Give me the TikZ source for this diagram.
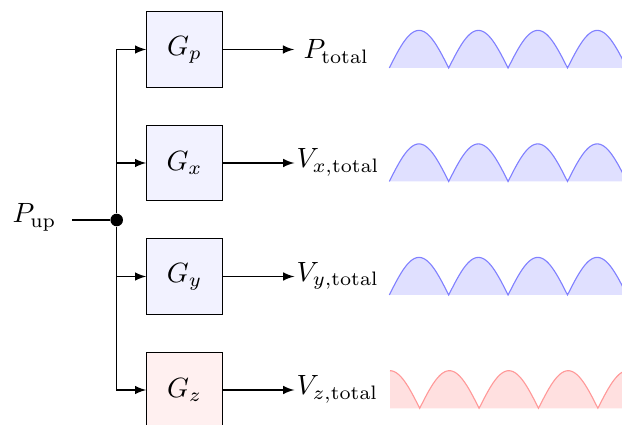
\documentclass[tikz,border=0pt]{standalone}
\usetikzlibrary{arrows}
\begin{document}
\begin{tikzpicture}[x=0.359pt,y=-0.359pt,
  gbox/.style={draw,minimum size=27.1pt,inner sep=0pt,fill=blue!5},
  gboxr/.style={gbox,fill=red!6},
  lbl/.style={inner sep=0pt,anchor=base west},
  arr/.style={-latex},
  bwave/.style={draw=blue!50,line width=0.4pt},
  bfill/.style={fill=blue!12},
  rwave/.style={draw=red!40,line width=0.4pt},
  rfill/.style={fill=red!12}]
\clip (0,0) rectangle (622,425);
% waves
\foreach \b in {68, 181.5, 295} {
  \fill[bfill] (389.3,\b) -- plot[domain=0:4,samples=161] ({389.3+59.4*\x},{\b-37.6*abs(sin(\x*180))}) -- cycle;
  \draw[bwave] plot[domain=0:4,samples=161] ({389.3+59.4*\x},{\b-37.6*abs(sin(\x*180))});
}
\fill[rfill] (390,408.3) -- plot[domain=0:4,samples=161] ({390+59.4*\x},{408.3-37.6*abs(cos(\x*180))}) -- (627.6,408.3) -- cycle;
\draw[rwave] plot[domain=0:4,samples=161] ({390+59.4*\x},{408.3-37.6*abs(cos(\x*180))});
% nodes
\node[inner sep=0pt,anchor=base west] (pup) at (12,223) {$P_{\mathrm{up}}$};
\coordinate (s) at (72,220);
\node[circle,fill,inner sep=0pt,minimum size=4.5pt] (j) at (116.7,220) {};
\node[gbox] (gp) at (184.5,49.5) {$G_p$};
\node[gbox] (gx) at (184.5,163) {$G_x$};
\node[gbox] (gy) at (184.5,276.5) {$G_y$};
\node[gboxr] (gz) at (184.5,390) {$G_z$};
\node[lbl] (lp) at (303,59) {$P_{\mathrm{total}}$};
\node[lbl] (lx) at (296,168) {$V_{x,\mathrm{total}}$};
\node[lbl] (ly) at (296,281.5) {$V_{y,\mathrm{total}}$};
\node[lbl] (lz) at (296,395) {$V_{z,\mathrm{total}}$};
% connectors
\draw (s) -- (j);
\draw[arr] (j) |- (gp.west);
\draw[arr] (j) |- (gx.west);
\draw[arr] (j) |- (gy.west);
\draw[arr] (j) |- (gz.west);
\draw[arr,shorten >=3.2pt] (gp.east) -- (gp.east -| lp.west);
\draw[arr,shorten >=0.6pt] (gx.east) -- (gx.east -| lx.west);
\draw[arr,shorten >=0.6pt] (gy.east) -- (gy.east -| ly.west);
\draw[arr,shorten >=0.6pt] (gz.east) -- (gz.east -| lz.west);
\end{tikzpicture}
\end{document}
